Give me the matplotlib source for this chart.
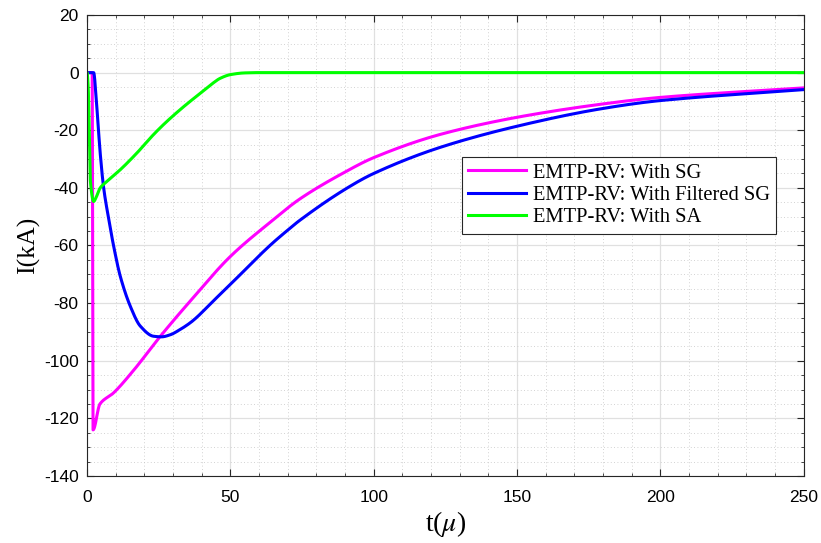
import numpy as np
import matplotlib
matplotlib.use('Agg')
import matplotlib.pyplot as plt
from matplotlib.ticker import MultipleLocator


T_SG = [0, 1.8, 2.1, 4.5, 9.2, 16.1, 25.5, 35.9, 50, 63.8, 74.3, 90, 100, 123, 150, 179, 200, 250]
I_SG = [0, 0, -124, -115, -111.2, -103.5, -91.6, -79.4, -63.8, -52, -43.8, -34.5, -29.5, -21.5, -15.5, -11, -8.6, -5.3]

T_FSG = [0, 2.3, 3.3, 4.6, 5.8, 7.6, 9.3, 11.6, 15.1, 18.6, 23.2, 26, 29, 32.4, 35.9, 38.2, 44, 50, 63.8, 69.6,
	74.3, 90, 100, 123, 150, 179, 200, 250]
I_FSG = [0, 0, -10.5, -28, -40, -51, -60.3, -70.7, -81.1, -88, -91.5, -91.7, -91, -89.2, -86.9, -85, -79.3, -73.5, -60, -55,
	-51.2, -40.5, -35, -26, -18.6, -12.6, -9.7, -5.9]

T_SA = [0, 0.4, 1.2, 2.3, 3.3, 4.6, 7, 11.6, 17.4, 23.2, 27.9, 34.7, 41.7, 44, 46.4, 50, 55, 60, 250]
I_SA = [0, -5, -38, -44.7, -43, -40, -37.7, -33.7, -27.9, -21.5, -16.9, -11, -5.5, -3.6, -2, -0.7, -0.1, 0, 0]

LABELS = ['EMTP-RV: With SG', 'EMTP-RV: With Filtered SG', 'EMTP-RV: With SA']
COLORS = ['#ff00ff', '#0000ff', '#00ff00']


def smooth(t, y):
	'''piecewise cubic hermite through the digitised points (no overshoot)'''
	t = np.asarray(t, float)
	y = np.asarray(y, float)
	d = np.diff(y) / np.diff(t)
	m = np.zeros_like(y)
	for k in range(1, len(t) - 1):
		if d[k - 1] * d[k] > 0:
			m[k] = 2 / (1 / d[k - 1] + 1 / d[k])
	m[-1] = d[-1]
	out_t, out_y = [], []
	for i in range(len(t) - 1):
		h = t[i + 1] - t[i]
		s = np.linspace(0, 1, 25, endpoint=False)
		h00 = 2 * s**3 - 3 * s**2 + 1
		h10 = s**3 - 2 * s**2 + s
		h01 = -2 * s**3 + 3 * s**2
		h11 = s**3 - s**2
		out_t.extend(t[i] + s * h)
		out_y.extend(h00 * y[i] + h10 * h * m[i] + h01 * y[i + 1] + h11 * h * m[i + 1])
	out_t.append(t[-1])
	out_y.append(y[-1])
	return np.array(out_t), np.array(out_y)


plt.rcParams['mathtext.fontset'] = 'stix'
plt.rcParams['axes.unicode_minus'] = False

fig = plt.figure(figsize=(8.21, 5.43), dpi=100)
ax = fig.add_axes([0.106, 0.1234, 0.873, 0.849])

for (t, y), lab, c in zip([(T_SG, I_SG), (T_FSG, I_FSG), (T_SA, I_SA)], LABELS, COLORS):
	ts, ys = smooth(t, y)
	ax.plot(ts, ys, color=c, lw=2.2, label=lab)

ax.set_xlim(0, 250)
ax.set_ylim(-140, 20)
ax.xaxis.set_major_locator(MultipleLocator(50))
ax.xaxis.set_minor_locator(MultipleLocator(10))
ax.yaxis.set_major_locator(MultipleLocator(20))
ax.yaxis.set_minor_locator(MultipleLocator(5))

ax.grid(True, which='major', color='#e0e0e0', lw=0.9)
ax.grid(True, which='minor', color='#c4c4c4', lw=0.6, ls=(0, (1, 3)))
ax.set_axisbelow(True)

ax.tick_params(which='both', direction='in', top=True, right=True, labelsize=12.5, color='#262626')
ax.tick_params(which='major', length=5, pad=6)
ax.tick_params(which='minor', length=2.5)
ax.tick_params(axis='x', which='major', pad=10)
for lbl in ax.get_xticklabels() + ax.get_yticklabels():
	lbl.set_family('Liberation Sans')
for sp in ax.spines.values():
	sp.set_color('#262626')
	sp.set_linewidth(0.8)

ax.set_xlabel(r't($\mu$)', family='Liberation Serif', fontsize=20, labelpad=3)
ax.set_ylabel('I(kA)', family='Liberation Serif', fontsize=18.5, labelpad=3)

leg = ax.legend(loc='upper left', bbox_to_anchor=(0.523, 0.692), borderaxespad=0,
	prop={'family': 'Liberation Serif', 'size': 14.8}, fancybox=False, framealpha=1,
	edgecolor='#262626', handlelength=2.8, handletextpad=0.35, labelspacing=0.15, borderpad=0.3)
leg.get_frame().set_linewidth(0.8)

fig.savefig('out.png', dpi=100)
